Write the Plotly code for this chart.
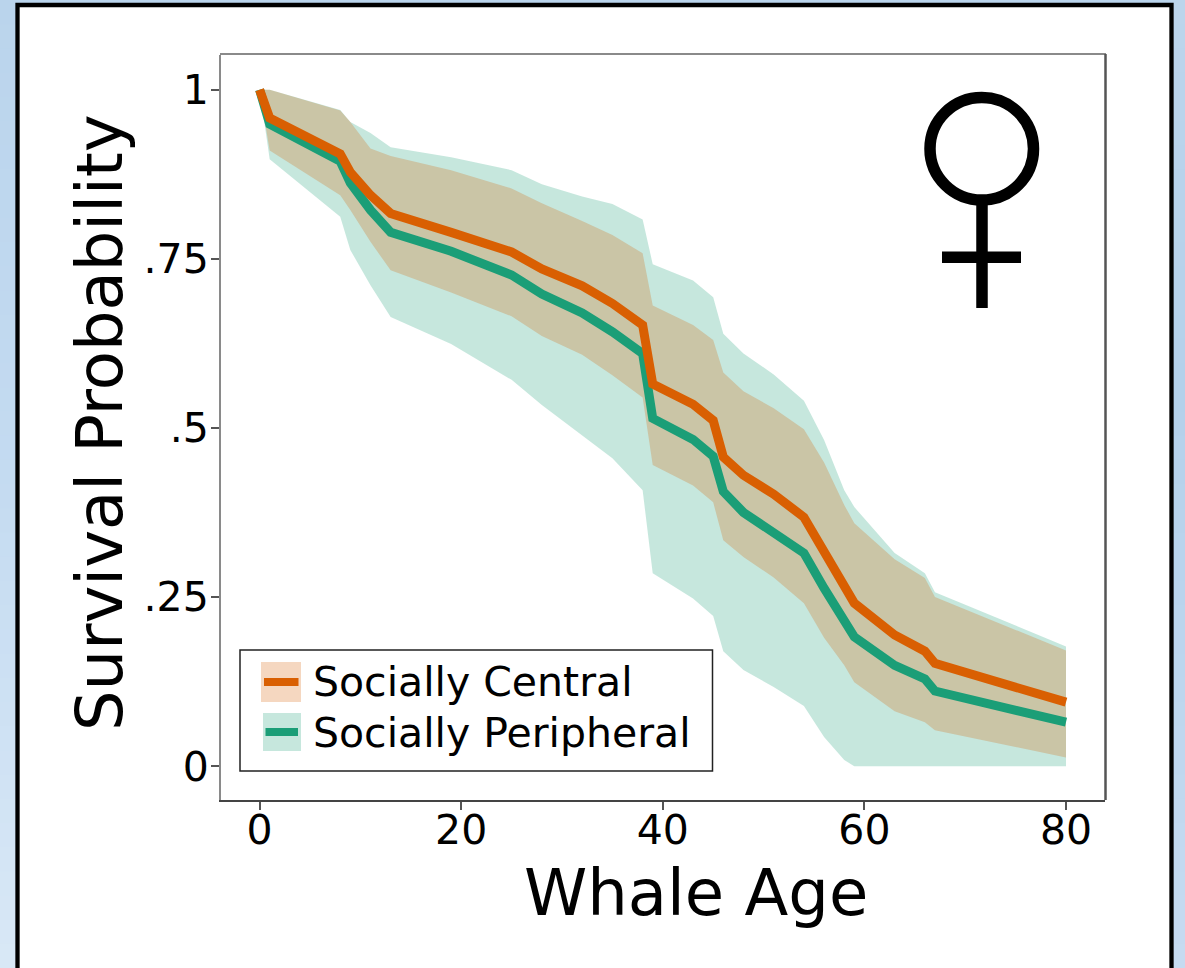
import plotly.graph_objects as go

# ---- data ----
age = [0, 1, 8, 9, 11, 13, 19, 25, 28, 32, 35, 38, 39, 43, 45, 46, 48, 51, 54, 56, 58, 59, 63, 66, 67, 80]
central = [1.0, .958, .905, .878, .844, .817, .789, .76, .735, .71, .684, .652, .565, .535, .511, .457, .43, .402, .368, .316, .27, .241, .194, .17, .152, .0946]
peripheral = [1.0, .949, .894, .862, .822, .789, .761, .726, .698, .67, .642, .61, .514, .483, .458, .406, .375, .346, .315, .263, .213, .191, .149, .129, .111, .065]
central_hi = [1.0, 1.0, .969, .952, .913, .902, .881, .854, .832, .806, .785, .758, .681, .652, .63, .582, .554, .529, .498, .449, .386, .359, .306, .278, .25, .171]
central_lo = [1.0, .91, .844, .822, .775, .733, .70, .665, .636, .608, .578, .545, .445, .415, .39, .334, .309, .279, .241, .19, .149, .124, .081, .065, .053, .013]
peripheral_hi = [1.0, 1.0, .97, .952, .936, .915, .90, .881, .86, .842, .831, .808, .742, .718, .693, .639, .61, .579, .54, .482, .408, .383, .315, .285, .257, .177]
peripheral_lo = [1.0, .897, .812, .763, .711, .664, .624, .571, .534, .489, .455, .408, .285, .248, .222, .17, .142, .117, .089, .043, .009, 0, 0, 0, 0, 0]
x_ticks = [0, 20, 40, 60, 80]
y_ticks = [0, .25, .5, .75, 1]
y_tick_text = ["0", ".25", ".5", ".75", "1"]
series_names = ["Socially Central", "Socially Peripheral"]

ORANGE = "#D95F02"
GREEN = "#1B9E77"
W, H = 1185, 968
FONT = "DejaVu Sans"

# plot box in pixels
L, R, T, B = 221, 1105, 55, 800


def fx(x):
    return (x - L) / (R - L)


def fy(y):
    return (B - y) / (B - T)


def px(x0, y0, x1, y1):
    return dict(x0=fx(x0), x1=fx(x1), y0=fy(y0), y1=fy(y1), xref="paper", yref="paper")


fig = go.Figure()


def band(name, hi, lo, col):
    fig.add_trace(go.Scatter(x=age + age[::-1], y=hi + lo[::-1], mode="lines", fill="toself",
                             fillcolor=col, line=dict(width=0), name=name, showlegend=False,
                             hoverinfo="skip"))


band(series_names[1] + " interval", peripheral_hi, peripheral_lo, "rgba(27,158,119,0.25)")
band(series_names[0] + " interval", central_hi, central_lo, "rgba(217,95,2,0.25)")
fig.add_trace(go.Scatter(x=age, y=peripheral, mode="lines", name=series_names[1],
                         line=dict(color=GREEN, width=9), showlegend=False))
fig.add_trace(go.Scatter(x=age, y=central, mode="lines", name=series_names[0],
                         line=dict(color=ORANGE, width=9), showlegend=False))

shapes = []


def lerp(stops, y):
    for (y0, c0), (y1, c1) in zip(stops, stops[1:]):
        if y <= y1:
            t = (y - y0) / (y1 - y0)
            return "rgb(%d,%d,%d)" % tuple(round(a + (b - a) * t) for a, b in zip(c0, c1))
    return "rgb(%d,%d,%d)" % stops[-1][1]


# page background: blue gradient strips behind the white panel
left_stops = [(0, (186, 212, 236)), (484, (196, 219, 241)), (968, (217, 232, 246))]
right_stops = [(0, (188, 213, 236)), (400, (180, 209, 235)), (968, (198, 219, 241))]
N = 40
shapes.append(dict(type="rect", layer="below", fillcolor="rgb(186,212,236)", line_width=0, **px(0, 0, W, 6)))
for i in range(N):
    y0, y1 = H * i / N, H * (i + 1) / N + 1
    shapes.append(dict(type="rect", layer="below", fillcolor=lerp(left_stops, (y0 + y1) / 2), line_width=0, **px(0, y0, 18, y1)))
    shapes.append(dict(type="rect", layer="below", fillcolor=lerp(right_stops, (y0 + y1) / 2), line_width=0, **px(1171, y0, W, y1)))
# white panel with black border
shapes.append(dict(type="rect", layer="below", fillcolor="white", line=dict(color="black", width=4.3),
                   **px(17.5, 5, 1171.5, 990)))
# top and right frame lines
shapes.append(dict(type="line", line=dict(color="#8a8a8a", width=2), **px(220, 54, 1106, 54)))
shapes.append(dict(type="line", line=dict(color="#555555", width=2.5), **px(1105.5, 54, 1105.5, 800)))
# legend box
shapes.append(dict(type="rect", fillcolor="white", line=dict(color="#222", width=1.5), **px(240, 650, 712.5, 771)))
shapes.append(dict(type="rect", fillcolor="rgba(217,95,2,0.25)", line_width=0, **px(261, 662, 301, 702)))
shapes.append(dict(type="line", line=dict(color=ORANGE, width=8), **px(264, 682, 298.5, 682)))
shapes.append(dict(type="rect", fillcolor="rgba(27,158,119,0.25)", line_width=0, **px(263, 713, 301, 751)))
shapes.append(dict(type="line", line=dict(color=GREEN, width=8), **px(265.5, 732, 298, 732)))
# female symbol
shapes.append(dict(type="circle", line=dict(color="black", width=11.5), fillcolor="rgba(0,0,0,0)", **px(930, 97.5, 1033.5, 200)))
shapes.append(dict(type="line", line=dict(color="black", width=11.5), **px(982, 203, 982, 308)))
shapes.append(dict(type="line", line=dict(color="black", width=11.5), **px(942, 257.3, 1021, 257.3)))

annotations = [dict(text=t, x=fx(311), y=fy(y), xanchor="left", yanchor="middle", xref="paper", yref="paper",
                    showarrow=False, font=dict(family=FONT, size=41, color="black"))
               for t, y in ((series_names[0], 682), (series_names[1], 733))]
annotations.append(dict(text="Whale Age", x=fx(696), y=fy(893), xanchor="center", yanchor="middle", xref="paper",
                        yref="paper", showarrow=False, font=dict(family=FONT, size=64, color="black")))
annotations.append(dict(text="Survival Probability", x=fx(100), y=fy(423), xanchor="center", yanchor="middle",
                        xref="paper", yref="paper", textangle=-90, showarrow=False,
                        font=dict(family=FONT, size=64, color="black")))

axis_common = dict(showgrid=False, zeroline=False, showline=True, mirror=False,
                   ticks="outside", ticklen=8, tickwidth=2, tickcolor="#555",
                   tickfont=dict(family=FONT, size=41, color="black"))

fig.update_layout(
    width=W, height=H, margin=dict(l=L, r=W - R, t=T, b=H - B, pad=0, autoexpand=False),
    paper_bgcolor="white", plot_bgcolor="white", showlegend=False, shapes=shapes, annotations=annotations,
    xaxis=dict(axis_common, range=[-3.83, 83.87], tickvals=x_ticks, linecolor="#444", linewidth=2,
               ticklabelstandoff=-15),
    yaxis=dict(axis_common, range=[-0.05, 1.0512], tickvals=y_ticks, ticktext=y_tick_text,
               linecolor="#8a8a8a", linewidth=2, ticklabelstandoff=-6),
)

fig.write_html("out.html", config=dict(displayModeBar=False),
               post_script="document.body.style.margin='0';document.body.style.overflow='hidden';")
